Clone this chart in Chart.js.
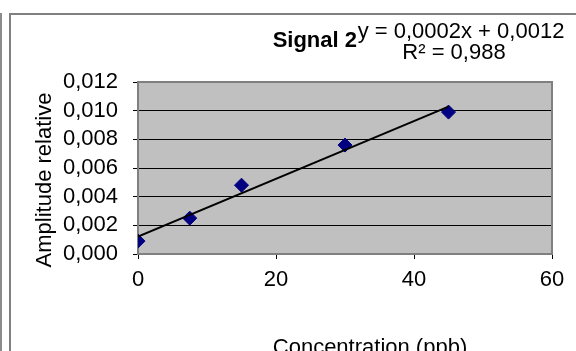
<!DOCTYPE html>
<html>
<head>
<meta charset="utf-8">
<script src="https://cdn.jsdelivr.net/npm/chart.js@4.4.1/dist/chart.umd.min.js"></script>
<style>
    html, body {
        margin: 0;
        padding: 0;
        background: #fff;
        overflow: hidden;
    }
    .wrap {
        position: relative;
        width: 576px;
        height: 351px;
    }
    .outer-line {
        position: absolute;
        left: 0;
        top: 13px;
        width: 2px;
        bottom: 0;
        background: #8c8c8c;
    }
    .frame {
        position: absolute;
        left: 9px;
        top: 13px;
        right: -10px;
        bottom: -10px;
        border-left: 2px solid #808080;
        border-top: 2px solid #808080;
    }
    canvas {
        position: absolute;
        left: 0;
        top: 0;
    }
</style>
</head>
<body>
<div class="wrap">
    <div class="outer-line"></div>
    <div class="frame"></div>
    <canvas id="signalChart" width="576" height="351"></canvas>
</div>
<script>
// concentration (ppb) and relative amplitude
const concentrations = [0, 7.5, 15, 30, 45];
const amplitudes = [0.0009, 0.0025, 0.0048, 0.0076, 0.0099];

const xTicks = [0, 20, 40, 60];
const yTicks = [0, 0.002, 0.004, 0.006, 0.008, 0.010, 0.012];

const chartTitle = "Signal 2";
const equationText = "y = 0,0002x + 0,0012";
const r2Text = "R² = 0,988";
const xTitle = "Concentration (ppb)";
const yTitle = "Amplitude relative";

const FONT = '"Liberation Sans", Arial, sans-serif';

// least squares trendline from the points
const n = concentrations.length;
const mx = concentrations.reduce((a, b) => a + b, 0) / n;
const my = amplitudes.reduce((a, b) => a + b, 0) / n;
let sxy = 0, sxx = 0;
for (let i = 0; i < n; i++) {
    sxy += (concentrations[i] - mx) * (amplitudes[i] - my);
    sxx += (concentrations[i] - mx) * (concentrations[i] - mx);
}
const slope = sxy / sxx;
const intercept = my - slope * mx;
const xFirst = concentrations[0];
const xLast = concentrations[n - 1];

const plotFrame = {
    id: 'plotFrame',
    beforeDraw(chart) {
        const a = chart.chartArea;
        const ctx = chart.ctx;
        ctx.save();
        ctx.fillStyle = '#c0c0c0';
        ctx.fillRect(a.left, a.top, a.right - a.left, a.bottom - a.top);
        ctx.restore();
    },
    beforeDatasetsDraw(chart) {
        const a = chart.chartArea;
        const ctx = chart.ctx;
        ctx.save();
        ctx.strokeStyle = '#808080';
        ctx.lineWidth = 2;
        ctx.beginPath();
        ctx.moveTo(a.left, a.top);
        ctx.lineTo(a.right, a.top);
        ctx.lineTo(a.right, a.bottom);
        ctx.stroke();
        ctx.restore();
    }
};

const labelsPlugin = {
    id: 'labelsPlugin',
    afterDraw(chart) {
        const ctx = chart.ctx;
        ctx.save();
        ctx.fillStyle = '#000';
        ctx.textBaseline = 'alphabetic';

        ctx.font = 'bold 22px ' + FONT;
        ctx.textAlign = 'right';
        ctx.fillText(chartTitle, 357, 47);

        ctx.font = '22px ' + FONT;
        ctx.textAlign = 'center';
        ctx.fillText(equationText, 461, 38);
        ctx.fillText(r2Text, 454, 59);

        ctx.fillText(xTitle, 370, 354);

        ctx.translate(51, 180);
        ctx.rotate(-Math.PI / 2);
        ctx.fillText(yTitle, 0, 0);
        ctx.restore();
    }
};

new Chart(document.getElementById("signalChart"), {
    type: 'scatter',
    data: {
        datasets: [{
                label: 'Linéaire',
                data: [
                    {x: xFirst, y: intercept + slope * xFirst},
                    {x: xLast, y: intercept + slope * xLast}
                ],
                showLine: true,
                borderColor: '#000',
                borderWidth: 2,
                pointRadius: 0,
                order: 0
            }, {
                label: chartTitle,
                data: concentrations.map((c, i) => ({x: c, y: amplitudes[i]})),
                pointStyle: 'rectRot',
                pointRadius: 7,
                backgroundColor: '#000080',
                borderColor: '#000080',
                borderWidth: 1,
                order: 1
            }]
    },
    options: {
        responsive: false,
        animation: false,
        layout: {
            padding: {top: 82, right: 24, left: 0, bottom: 0}
        },
        plugins: {
            legend: {display: false},
            tooltip: {enabled: false}
        },
        scales: {
            x: {
                type: 'linear',
                min: 0,
                max: 60,
                afterBuildTicks: (scale) => {
                    scale.ticks = xTicks.map(v => ({value: v}));
                },
                afterFit: (scale) => {
                    scale.height = 97;
                },
                ticks: {
                    color: '#000',
                    padding: 8,
                    autoSkip: false,
                    maxRotation: 0,
                    font: {family: FONT, size: 22}
                },
                grid: {
                    drawOnChartArea: false,
                    tickLength: 5,
                    tickColor: '#000'
                },
                border: {
                    color: '#808080',
                    width: 2
                }
            },
            y: {
                min: 0,
                max: 0.012,
                afterBuildTicks: (scale) => {
                    scale.ticks = yTicks.map(v => ({value: v}));
                },
                afterFit: (scale) => {
                    scale.width = 138;
                },
                ticks: {
                    color: '#000',
                    padding: 15,
                    autoSkip: false,
                    font: {family: FONT, size: 22},
                    callback: (v) => v.toFixed(3).replace('.', ',')
                },
                grid: {
                    color: (c) => (c.tick && (c.tick.value === 0 || c.tick.value === 0.012))
                                ? 'rgba(0,0,0,0)' : '#000',
                    lineWidth: 1,
                    tickLength: 5,
                    tickColor: '#000'
                },
                border: {
                    color: '#808080',
                    width: 2
                }
            }
        }
    },
    plugins: [plotFrame, labelsPlugin]
});
</script>
</body>
</html>
